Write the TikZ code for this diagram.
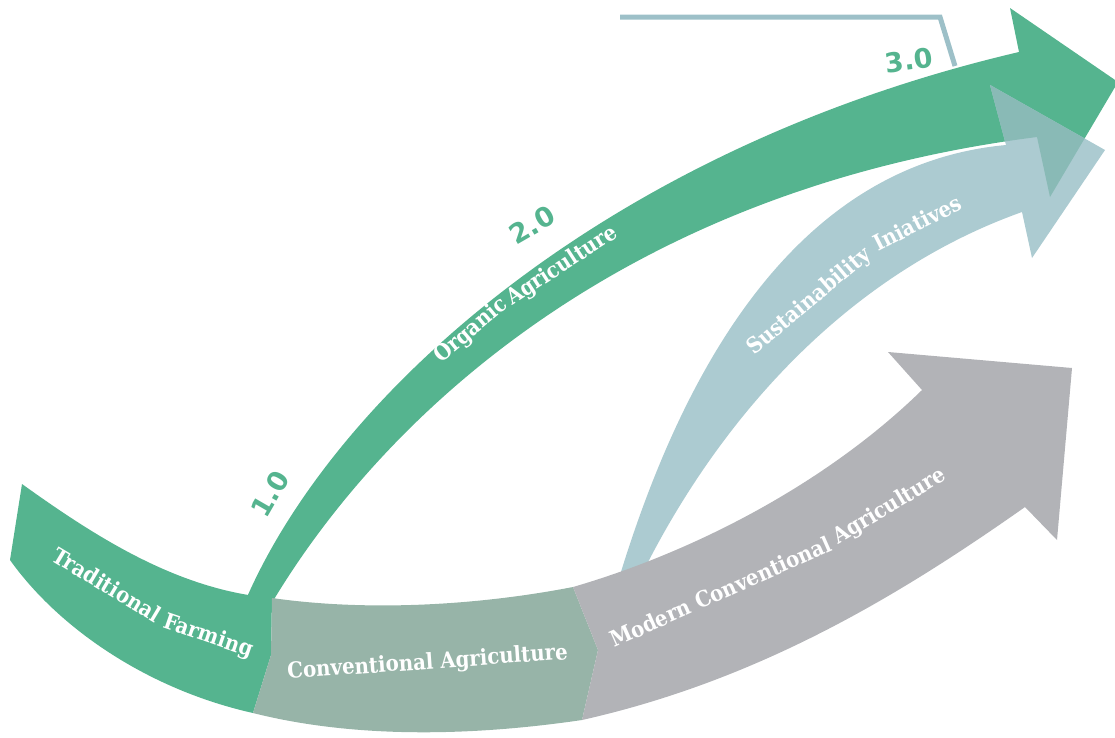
\documentclass[tikz,border=0pt]{standalone}
\usepackage{fontspec}
\setmainfont{DejaVu Serif}
\newfontfamily\bandfont{DejaVu Serif}[FakeStretch=0.9]
\newfontfamily\numfont{DejaVu Sans}

\definecolor{farmgreen}{HTML}{55B48F}
\definecolor{convgreen}{HTML}{97B4A8}
\definecolor{moderngray}{HTML}{B2B3B7}
\definecolor{sustblue}{HTML}{ACCBD1}
\definecolor{overlapteal}{HTML}{89BAB6}
\definecolor{bracketblue}{HTML}{9DC0C8}

\newcommand{\organicarrow}{(244,604) .. controls (330,400) and (600,150) .. (1019,52) -- (1010,8) -- (1118,82) -- (1050,197) -- (1037,137) .. controls (620,190) and (380,420) .. (270,606) -- cycle}
\newcommand{\sustarrow}{(615,592) -- (620,575) .. controls (680,380) and (790,165) .. (1006,145) -- (990,85) -- (1105,150) -- (1032,258) -- (1022,212) .. controls (845,275) and (720,420) .. (645,568) -- (645,592) -- cycle}

\begin{document}
\begin{tikzpicture}[x=1pt, y=-1pt,
    bandlabel/.style={text=white, font=\bandfont\bfseries\fontsize{22}{22}\selectfont, inner sep=0pt, anchor=base west},
    numlabel/.style={text=farmgreen, font=\numfont\bfseries\fontsize{27}{27}\selectfont, inner sep=0pt}]
  \useasboundingbox (0,0) rectangle (1115,737);

  % bracket line at the top
  \coordinate (b1) at (620,17);
  \coordinate (b2) at (940,17);
  \coordinate (b3) at (955,66);
  \draw [bracketblue, line width=5pt] (b1) -- (b2) -- (b3);

  % organic (green) and sustainability (blue) arrows
  \fill [farmgreen] \organicarrow;
  \fill [sustblue] \sustarrow;
  \begin{scope}
    \clip \organicarrow;
    \fill [overlapteal] \sustarrow;
  \end{scope}

  % bottom band
  \fill [farmgreen] (22,484) .. controls (100,540) and (180,590) .. (272,598) -- (271,655) -- (253,713)
    .. controls (150,690) and (60,630) .. (10,560) -- cycle;
  \fill [convgreen] (272,598) .. controls (370,612) and (480,605) .. (573,587) -- (598,650) -- (582,720)
    .. controls (480,735) and (360,740) .. (253,713) -- (271,655) -- cycle;
  \fill [moderngray] (573,587) .. controls (700,550) and (830,480) .. (922,390) -- (888,352) -- (1072,368)
    -- (1057,540) -- (1025,507) .. controls (900,595) and (760,680) .. (582,720) -- (598,650) -- cycle;

  % labels
  \node (trad) [bandlabel, rotate=-31] at (50,560) {Traditional};
  \node (farm) [bandlabel, rotate=-19] at (162,627) {Farming};
  \node (conv) [bandlabel, rotate=4, anchor=base] at (428,669) {Conventional Agriculture};
  \node (modern) [bandlabel, rotate=24] at (614,648) {Modern Conventional};
  \node (modagri) [bandlabel, rotate=31] at (838,545) {Agriculture};
  \node (organic) [bandlabel, rotate=40] at (441,364) {Organic};
  \node (orgagri) [bandlabel, rotate=33] at (512,306) {Agriculture};
  \node (sust) [bandlabel, rotate=40] at (754,356) {Sustainability};
  \node (iniat) [bandlabel, rotate=27] at (878,252) {Iniatives};

  \node (one) [numlabel, rotate=60] at (270,494) {1.0};
  \node (two) [numlabel, rotate=30] at (532,225) {2.0};
  \node (three) [numlabel, rotate=8] at (909,60) {3.0};
\end{tikzpicture}
\end{document}
